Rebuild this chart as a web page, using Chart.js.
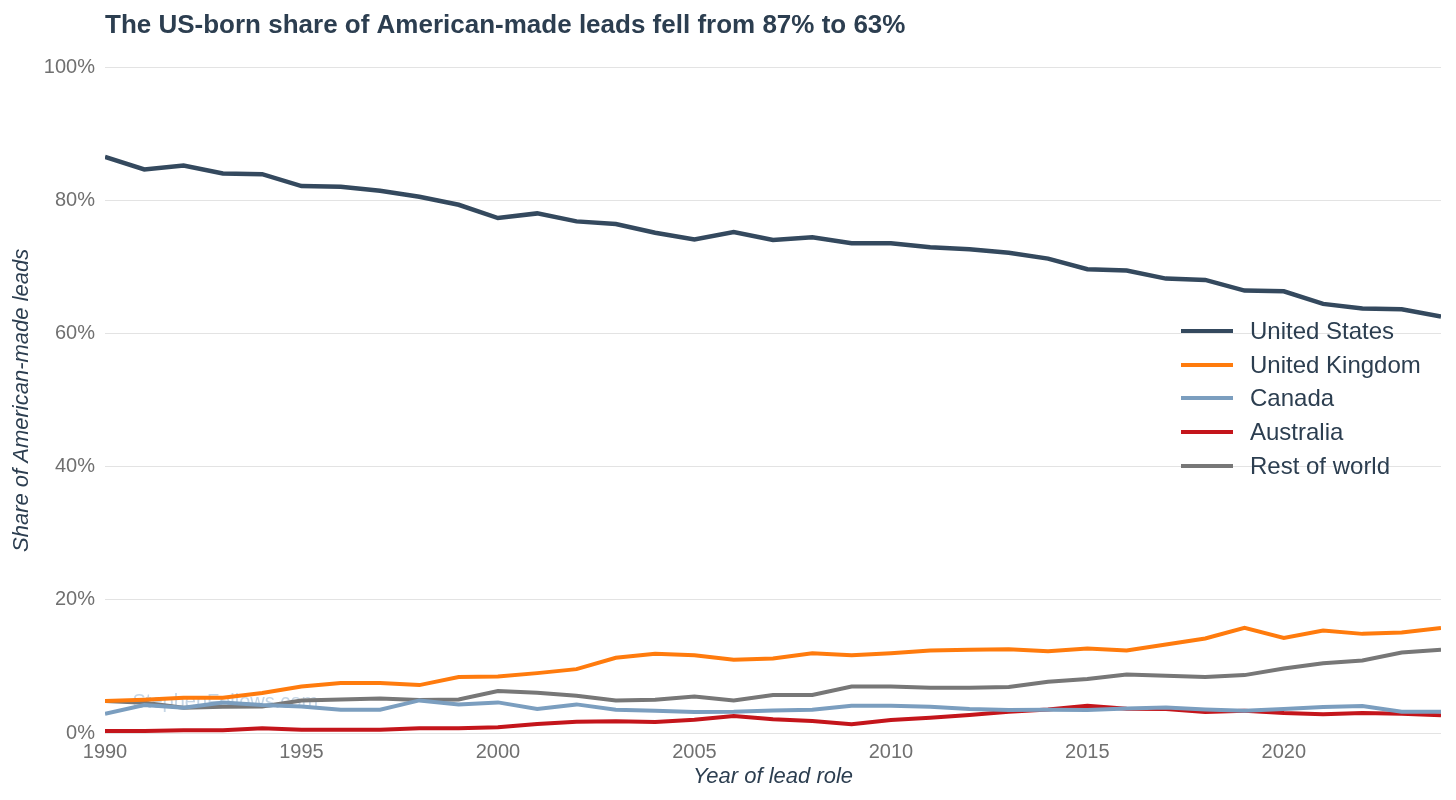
<!DOCTYPE html>
<html>
<head>
<meta charset="utf-8">
<script src="https://cdn.jsdelivr.net/npm/chart.js@4"></script>
<style>
  body { margin: 0; background: #fff; font-family: "Liberation Sans", Arial, sans-serif; }
  #wrap { position: relative; width: 1456px; height: 800px; }
  #legend { position: absolute; left: 1181px; top: 314px; list-style: none; margin: 0; padding: 0; }
  #legend li { display: flex; align-items: center; height: 33.8px; font-size: 24px; color: #2c3e50; }
  #legend .swatch { width: 52px; height: 4px; margin-right: 17px; }
</style>
</head>
<body>
<div id="wrap">
  <canvas id="myChart" width="1456" height="800"></canvas>
  <ul id="legend"></ul>
</div>
<script>
const years = [];
for (let y = 1990; y <= 2024; y++) years.push(y);

const seriesNames = ['United States', 'United Kingdom', 'Canada', 'Australia', 'Rest of world'];
const seriesColors = ['#34495e', '#ff7b0d', '#7b9ebf', '#c4151b', '#777777'];

const usShare = [86.6, 84.7, 85.3, 84.1, 84.0, 82.2, 82.1, 81.5, 80.6, 79.4,
                 77.4, 78.1, 76.9, 76.5, 75.2, 74.2, 75.3, 74.1, 74.5, 73.6,
                 73.6, 73.0, 72.7, 72.2, 71.3, 69.7, 69.5, 68.3, 68.1, 66.5,
                 66.4, 64.5, 63.8, 63.7, 62.6];
const ukShare = [4.8, 5.0, 5.3, 5.3, 6.0, 7.0, 7.5, 7.5, 7.2, 8.4,
                 8.5, 9.0, 9.6, 11.3, 11.9, 11.7, 11.0, 11.2, 12.0, 11.7,
                 12.0, 12.4, 12.5, 12.6, 12.3, 12.7, 12.4, 13.3, 14.2, 15.8,
                 14.3, 15.4, 14.9, 15.1, 15.8];
const canadaShare = [2.9, 4.2, 3.8, 4.6, 4.2, 4.0, 3.5, 3.5, 4.9, 4.3,
                     4.6, 3.6, 4.3, 3.5, 3.35, 3.15, 3.2, 3.4, 3.5, 4.1,
                     4.1, 3.95, 3.6, 3.45, 3.5, 3.45, 3.7, 3.85, 3.55, 3.35,
                     3.6, 3.9, 4.05, 3.2, 3.2];
const australiaShare = [0.3, 0.3, 0.4, 0.4, 0.7, 0.5, 0.5, 0.5, 0.7, 0.7,
                        0.85, 1.35, 1.7, 1.75, 1.65, 2.0, 2.55, 2.05, 1.8, 1.3,
                        1.95, 2.3, 2.7, 3.2, 3.55, 4.1, 3.65, 3.6, 3.15, 3.35,
                        3.0, 2.8, 3.0, 2.9, 2.65];
const restShare = [4.8, 4.55, 3.8, 3.95, 4.0, 4.9, 5.05, 5.2, 4.95, 5.05,
                   6.3, 6.05, 5.6, 4.9, 5.0, 5.5, 4.9, 5.7, 5.7, 7.0,
                   7.0, 6.8, 6.8, 6.9, 7.7, 8.1, 8.8, 8.6, 8.4, 8.7,
                   9.7, 10.5, 10.9, 12.1, 12.5];

const yTicks = [0, 20, 40, 60, 80, 100];
const xTicks = [1990, 1995, 2000, 2005, 2010, 2015, 2020];

const allSeries = [usShare, ukShare, canadaShare, australiaShare, restShare];

function toPoints(values) {
    return values.map((v, i) => ({ x: years[i], y: v }));
}

// faint site watermark, drawn under the lines
const watermark = {
    id: 'watermark',
    beforeDatasetsDraw(chart) {
        const ctx = chart.ctx;
        const xs = chart.scales.x;
        const ys = chart.scales.y;
        ctx.save();
        ctx.font = '20px "Liberation Sans", Arial, sans-serif';
        ctx.fillStyle = 'rgba(150, 180, 210, 0.55)';
        ctx.textBaseline = 'middle';
        ctx.fillText('StephenFollows.com', xs.getPixelForValue(1990.7), ys.getPixelForValue(4.6));
        ctx.restore();
    }
};

const font = '"Liberation Sans", Arial, sans-serif';

const ctx = document.getElementById('myChart').getContext('2d');
const myChart = new Chart(ctx, {
    type: 'line',
    data: {
        datasets: seriesNames.map((name, i) => ({
            label: name,
            data: toPoints(allSeries[i]),
            borderColor: seriesColors[i],
            backgroundColor: seriesColors[i],
            borderWidth: i === 0 ? 4.5 : 4,
            pointRadius: 0,
            tension: 0
        }))
    },
    options: {
        responsive: false,
        animation: false,
        events: [],
        layout: { padding: { left: 9, right: 15, top: 0, bottom: 7 } },
        plugins: {
            legend: { display: false },
            tooltip: { enabled: false },
            title: {
                display: true,
                text: 'The US-born share of American-made leads fell from 87% to 63%',
                align: 'start',
                fullSize: false,
                color: '#2c3e50',
                font: { family: font, size: 26, weight: 'bold' },
                padding: { top: 10, bottom: 26.5 }
            }
        },
        scales: {
            x: {
                type: 'linear',
                min: 1990,
                max: 2024,
                grid: { display: false, drawTicks: false, tickLength: 0 },
                border: { display: false },
                afterBuildTicks(scale) {
                    scale.ticks = xTicks.map(v => ({ value: v }));
                },
                afterFit(scale) {
                    scale.height = 60;
                },
                ticks: {
                    color: '#707070',
                    padding: 7,
                    maxRotation: 0,
                    font: { family: font, size: 20 },
                    callback: v => String(v)
                },
                title: {
                    display: true,
                    text: 'Year of lead role',
                    color: '#2c3e50',
                    padding: { top: 0, bottom: 3 },
                    font: { family: font, size: 22, style: 'italic' }
                }
            },
            y: {
                min: 0,
                max: 100,
                afterBuildTicks(scale) {
                    scale.ticks = yTicks.map(v => ({ value: v }));
                },
                afterFit(scale) {
                    scale.width = 96;
                },
                grid: { color: '#e3e3e3', lineWidth: 1, drawTicks: false },
                border: { display: false },
                ticks: {
                    color: '#707070',
                    padding: 10,
                    font: { family: font, size: 20 },
                    callback: v => v + '%'
                },
                title: {
                    display: true,
                    text: 'Share of American-made leads',
                    color: '#2c3e50',
                    padding: { top: 0, bottom: 0 },
                    font: { family: font, size: 22, style: 'italic' }
                }
            }
        }
    },
    plugins: [watermark]
});

// html legend floated over the right side of the plot
const legendEl = document.getElementById('legend');
myChart.data.datasets.forEach(ds => {
    const li = document.createElement('li');
    const sw = document.createElement('span');
    sw.className = 'swatch';
    sw.style.background = ds.borderColor;
    li.appendChild(sw);
    li.appendChild(document.createTextNode(ds.label));
    legendEl.appendChild(li);
});
</script>
</body>
</html>
